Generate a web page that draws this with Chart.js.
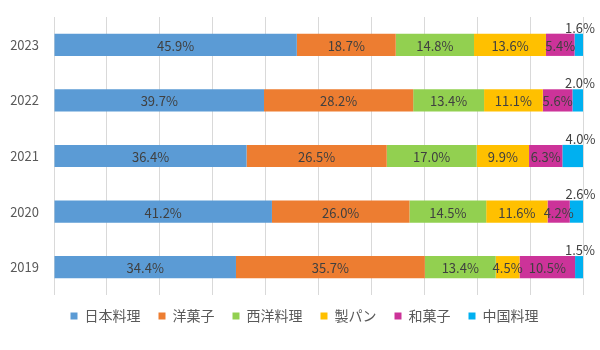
<!DOCTYPE html>
<html>
<head>
<meta charset="utf-8">
<script src="https://cdn.jsdelivr.net/npm/chart.js@4/dist/chart.umd.min.js"></script>
<style>
  html, body { margin: 0; padding: 0; background: #ffffff; }
  #wrap { width: 600px; height: 350px; }
</style>
</head>
<body>
<div id="wrap"><canvas id="chart" width="600" height="350"></canvas></div>
<script>
// Share of each cuisine by year (%)
const years = ['2023', '2022', '2021', '2020', '2019'];
const seriesNames = ['日本料理', '洋菓子', '西洋料理', '製パン', '和菓子', '中国料理'];
const japanese = [45.9, 39.7, 36.4, 41.2, 34.4];
const westernSweets = [18.7, 28.2, 26.5, 26.0, 35.7];
const western = [14.8, 13.4, 17.0, 14.5, 13.4];
const bakery = [13.6, 11.1, 9.9, 11.6, 4.5];
const japaneseSweets = [5.4, 5.6, 6.3, 4.2, 10.5];
const chinese = [1.6, 2.0, 4.0, 2.6, 1.5];
const xTicks = [0, 10, 20, 30, 40, 50, 60, 70, 80, 90, 100];

const seriesValues = [japanese, westernSweets, western, bakery, japaneseSweets, chinese];
const seriesColors = ['#5B9BD5', '#ED7D31', '#92D050', '#FFC000', '#CC3399', '#00B0F0'];

const FONT = '"Noto Sans CJK JP", "Noto Sans", sans-serif';

// Percentage labels: centred inside each segment, the last segment's label sits above the bar end
const valueLabels = {
  id: 'valueLabels',
  afterDatasetsDraw(chart) {
    const ctx = chart.ctx;
    const last = chart.data.datasets.length - 1;
    ctx.save();
    ctx.font = '13px ' + FONT;
    ctx.fillStyle = '#404040';
    ctx.textAlign = 'center';
    ctx.textBaseline = 'middle';
    chart.data.datasets.forEach((ds, di) => {
      const meta = chart.getDatasetMeta(di);
      meta.data.forEach((bar, i) => {
        const p = bar.getProps(['x', 'y', 'base', 'height'], true);
        const text = ds.data[i].toFixed(1) + '%';
        if (di === last) {
          ctx.fillText(text, p.x - 3, p.y - p.height / 2 - 6);
        } else {
          ctx.fillText(text, (p.x + p.base) / 2, p.y + 1);
        }
      });
    });
    ctx.restore();
  }
};

// Centre the legend row under the plot area rather than the whole canvas
const legendShift = {
  id: 'legendShift',
  afterLayout(chart) {
    const lg = chart.legend;
    if (lg) { lg.left += 13; lg.right += 13; }
  }
};

new Chart(document.getElementById('chart'), {
  type: 'bar',
  data: {
    labels: years,
    datasets: seriesNames.map((name, k) => ({
      label: name,
      data: seriesValues[k],
      backgroundColor: seriesColors[k],
      borderWidth: 0,
      barPercentage: 0.4,
      categoryPercentage: 1.0
    }))
  },
  options: {
    indexAxis: 'y',
    responsive: false,
    animation: false,
    layout: { padding: { top: 17, right: 17, left: 0, bottom: 17 } },
    scales: {
      x: {
        stacked: true,
        min: 0,
        max: 100,
        afterBuildTicks(scale) { scale.ticks = xTicks.map(v => ({ value: v })); },
        ticks: { display: false },
        grid: { color: '#D9D9D9', lineWidth: 1, drawTicks: false },
        border: { display: false }
      },
      y: {
        stacked: true,
        afterFit(scale) {
          scale.width = 54;
          scale.paddingTop = 0;
          scale.paddingBottom = 0;
        },
        ticks: { color: '#595959', font: { family: FONT, size: 13 }, padding: 15 },
        grid: { display: false, drawTicks: false },
        border: { display: false }
      }
    },
    plugins: {
      legend: {
        position: 'bottom',
        // empty title with a small negative padding pulls the legend row up closer to the plot
        title: { display: true, text: '', font: { size: 1, lineHeight: 0 }, padding: { top: -4, bottom: 0 } },
        labels: {
          boxWidth: 7,
          boxHeight: 7,
          padding: 18,
          color: '#595959',
          font: { family: FONT, size: 14 }
        }
      },
      tooltip: { enabled: false }
    }
  },
  plugins: [valueLabels, legendShift]
});
</script>
</body>
</html>
